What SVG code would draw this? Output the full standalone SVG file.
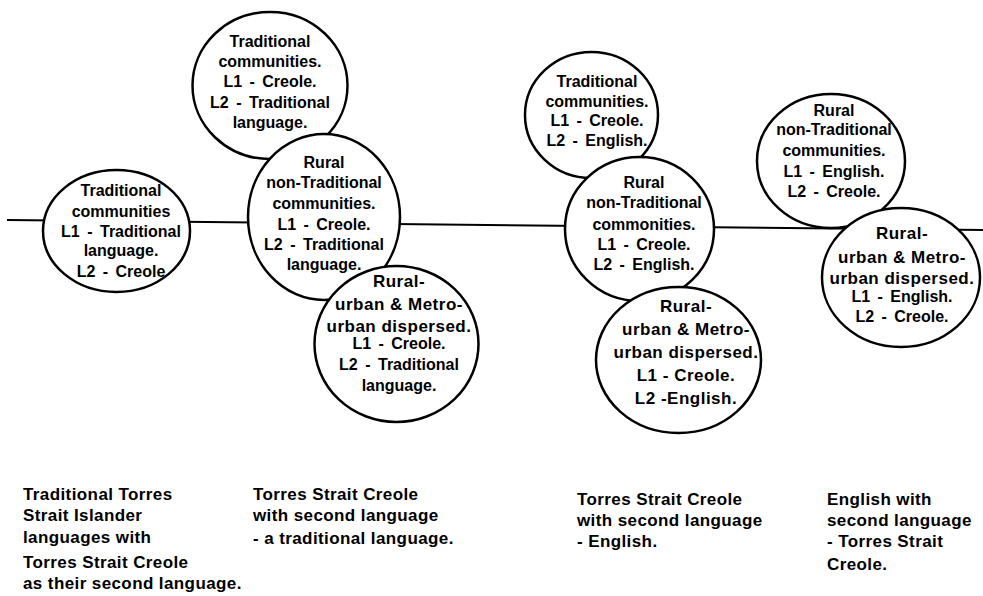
<svg xmlns="http://www.w3.org/2000/svg" width="983" height="596" viewBox="0 0 983 596">
<style>
.c{fill:#fff;stroke:#000;stroke-width:2.5}
.ln{stroke:#000;stroke-width:2;fill:none}
.b{font-family:"Liberation Sans",Arial,sans-serif;font-weight:bold;font-size:16px;text-anchor:middle;word-spacing:3px;fill:#000}
.l{font-family:"Liberation Sans",Arial,sans-serif;font-weight:bold;font-size:17px;text-anchor:middle;letter-spacing:0.5px;fill:#000}
.cap{font-family:"Liberation Sans",Arial,sans-serif;font-weight:bold;font-size:17px;letter-spacing:0.4px;fill:#000}
</style>
<rect width="983" height="596" fill="#fff"/>
<g id="connectors">
<line class="ln" x1="7" y1="220" x2="983" y2="230"/>
</g>
<g id="n1">
<ellipse class="c" cx="116.5" cy="231" rx="73.5" ry="61"/>
<text class="b"><tspan x="121" y="196">Traditional</tspan><tspan x="121" y="217">communities</tspan><tspan x="121" y="237">L1 - Traditional</tspan><tspan x="121" y="256">language.</tspan><tspan x="121" y="277">L2 - Creole</tspan></text>
</g>
<g id="n2">
<ellipse class="c" cx="270" cy="85.5" rx="77.5" ry="73.5"/>
<text class="b"><tspan x="270" y="47">Traditional</tspan><tspan x="270" y="67">communities.</tspan><tspan x="270" y="87">L1 - Creole.</tspan><tspan x="270" y="108">L2 - Traditional</tspan><tspan x="270" y="128">language.</tspan></text>
</g>
<g id="n3">
<ellipse class="c" cx="324" cy="217" rx="76" ry="83"/>
<text class="b"><tspan x="324" y="168">Rural</tspan><tspan x="324" y="188">non-Traditional</tspan><tspan x="324" y="209">communities.</tspan><tspan x="324" y="230">L1 - Creole.</tspan><tspan x="324" y="250">L2 - Traditional</tspan><tspan x="324" y="270">language.</tspan></text>
</g>
<g id="n4">
<ellipse class="c" cx="396.5" cy="344" rx="82" ry="78"/>
<text class="l"><tspan x="399" y="287">Rural-</tspan><tspan x="399" y="310">urban &amp; Metro-</tspan><tspan x="399" y="332">urban dispersed.</tspan></text>
<text class="b"><tspan x="399" y="349">L1 - Creole.</tspan><tspan x="399" y="370">L2 - Traditional</tspan><tspan x="399" y="391">language.</tspan></text>
</g>
<g id="n5">
<ellipse class="c" cx="591.5" cy="115" rx="66.5" ry="63"/>
<text class="b"><tspan x="597" y="87">Traditional</tspan><tspan x="597" y="107">communities.</tspan><tspan x="597" y="126">L1 - Creole.</tspan><tspan x="597" y="146">L2 - English.</tspan></text>
</g>
<g id="n6">
<ellipse class="c" cx="639.5" cy="229" rx="74.5" ry="72"/>
<text class="b"><tspan x="644" y="188">Rural</tspan><tspan x="644" y="208">non-Traditional</tspan><tspan x="644" y="230">commonities.</tspan><tspan x="644" y="250">L1 - Creole.</tspan><tspan x="644" y="270">L2 - English.</tspan></text>
</g>
<g id="n7">
<ellipse class="c" cx="678.5" cy="360" rx="82.5" ry="73"/>
<text class="l"><tspan x="686" y="312">Rural-</tspan><tspan x="686" y="335">urban &amp; Metro-</tspan><tspan x="686" y="358">urban dispersed.</tspan><tspan x="686" y="381">L1 - Creole.</tspan><tspan x="686" y="404">L2 -English.</tspan></text>
</g>
<g id="n8">
<ellipse class="c" cx="831" cy="161" rx="74" ry="67"/>
<text class="b"><tspan x="834" y="116">Rural</tspan><tspan x="834" y="135">non-Traditional</tspan><tspan x="834" y="156">communities.</tspan><tspan x="834" y="177">L1 - English.</tspan><tspan x="834" y="197">L2 - Creole.</tspan></text>
</g>
<g id="n9">
<ellipse class="c" cx="901" cy="277.5" rx="79" ry="69.5"/>
<text class="l"><tspan x="902" y="239">Rural-</tspan><tspan x="902" y="263">urban &amp; Metro-</tspan><tspan x="902" y="284">urban dispersed.</tspan></text>
<text class="b"><tspan x="902" y="302">L1 - English.</tspan><tspan x="902" y="322">L2 - Creole.</tspan></text>
</g>
<g id="captions">
<text class="cap"><tspan x="23" y="500">Traditional Torres</tspan><tspan x="23" y="521">Strait Islander</tspan><tspan x="23" y="543">languages with</tspan><tspan x="23" y="568">Torres Strait Creole</tspan><tspan x="23" y="589">as their second language.</tspan></text>
<text class="cap"><tspan x="253" y="500">Torres Strait Creole</tspan><tspan x="253" y="521">with second language</tspan><tspan x="253" y="544">- a traditional language.</tspan></text>
<text class="cap"><tspan x="577" y="505">Torres Strait Creole</tspan><tspan x="577" y="526">with second language</tspan><tspan x="577" y="547">- English.</tspan></text>
<text class="cap"><tspan x="827" y="505">English with</tspan><tspan x="827" y="526">second language</tspan><tspan x="827" y="547">- Torres Strait</tspan><tspan x="827" y="570">Creole.</tspan></text>
</g>
</svg>
